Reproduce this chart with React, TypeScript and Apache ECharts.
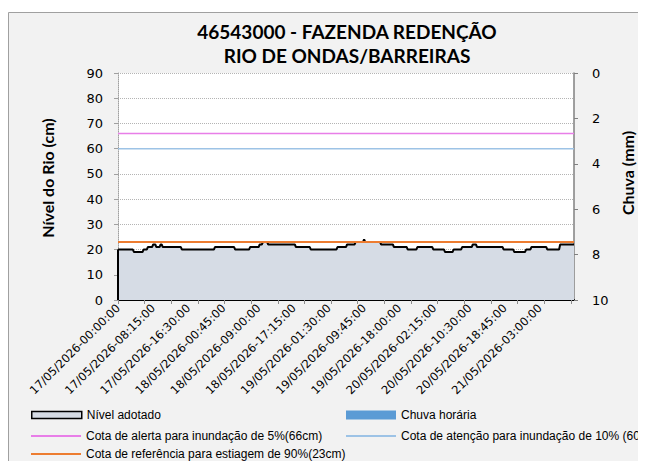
import React, { useEffect, useRef } from "react";
import * as echarts from "echarts";

// ---- data ----
const titleLines = ["46543000 - FAZENDA REDENÇÃO", "RIO DE ONDAS/BARREIRAS"];
const leftAxisTitle = "Nível do Rio (cm)";
const rightAxisTitle = "Chuva (mm)";

// river level (cm), run-length encoded as [value, number of 15-min readings]
const levelRuns: [number, number][] = [
  [20, 15], [19, 9], [20, 4], [21, 5], [22, 3], [21, 4], [22, 2], [21, 18],
  [20, 31], [21, 19], [20, 14], [21, 9], [22, 3], [23, 5], [22, 26], [21, 14],
  [20, 25], [21, 9], [22, 8], [23, 8], [24, 1], [23, 15], [22, 12], [21, 13],
  [20, 9], [21, 15], [20, 11], [19, 8], [20, 8], [21, 10], [22, 4], [21, 25],
  [20, 10], [19, 11], [20, 5], [21, 15], [20, 12], [22, 14],
];
// hourly rain (mm): none recorded
const rainRuns: [number, number][] = [[0, 429]];

const alertLevel = 66;
const attentionLevel = 60;
const droughtLevel = 23;

const seriesNames = {
  level: "Nível adotado",
  rain: "Chuva horária",
  alert: "Cota de alerta para inundação de 5%(66cm)",
  attention: "Cota de atenção para inundação de 10% (60cm)",
  drought: "Cota de referência para estiagem de 90%(23cm)",
};

const startDay = 17;
const stepMinutes = 15;

const expand = (runs: [number, number][]) =>
  runs.flatMap(([v, n]) => Array(n).fill(v));

const levelData: number[] = expand(levelRuns);
const rainData: number[] = expand(rainRuns);

const pad = (n: number) => String(n).padStart(2, "0");
const categories: string[] = levelData.map((_, i) => {
  const m = i * stepMinutes;
  const d = startDay + Math.floor(m / 1440);
  const hh = Math.floor((m % 1440) / 60);
  const mm = m % 60;
  return `${pad(d)}/05/2026-${pad(hh)}:${pad(mm)}:00`;
});

const alertData = categories.map(() => alertLevel);
const attentionData = categories.map(() => attentionLevel);
const droughtData = categories.map(() => droughtLevel);

const COLORS = {
  area: "#d6dce5",
  rain: "#5b9bd5",
  alert: "#e87ee8",
  attention: "#9dc3e6",
  drought: "#ed7d31",
};

export default function App() {
  const ref = useRef<HTMLDivElement>(null);

  useEffect(() => {
    if (!ref.current) return;
    const chart = echarts.init(ref.current, undefined, { renderer: "svg" });
    const legendText = { fontFamily: "Liberation Sans", fontSize: 12, color: "#000" };
    const mkLegend = (
      name: string,
      left: number,
      top: number,
      itemHeight: number,
      extra: any = {}
    ) => ({
      data: [{ name, icon: "rect", ...extra }],
      left,
      top,
      padding: 0,
      itemWidth: 50,
      itemHeight,
      itemGap: 0,
      textStyle: legendText,
      selectedMode: false,
    });

    chart.setOption({
      animation: false,
      title: {
        text: titleLines.join("\n"),
        left: 339,
        top: 11,
        textAlign: "center",
        padding: 0,
        textStyle: {
          fontFamily: "Lato",
          fontWeight: "bold",
          fontSize: 19,
          lineHeight: 24,
          color: "#000",
        },
      },
      graphic: [
        {
          type: "rect",
          z: -10,
          shape: { x: 0.5, y: 4.5, width: 631, height: 470 },
          style: { fill: "#f2f2f2", stroke: "#a0a0a0", lineWidth: 1 },
        },
        {
          type: "text",
          x: 39,
          y: 170,
          rotation: Math.PI / 2,
          style: {
            text: leftAxisTitle,
            align: "center",
            verticalAlign: "middle",
            font: "bold 16px Lato",
            fill: "#000",
          },
        },
        {
          type: "text",
          x: 619,
          y: 165,
          rotation: Math.PI / 2,
          style: {
            text: rightAxisTitle,
            align: "center",
            verticalAlign: "middle",
            font: "bold 16px Lato",
            fill: "#000",
          },
        },
      ],
      legend: [
        mkLegend(seriesNames.level, 23, 401, 7, {
          itemStyle: { color: COLORS.area, borderColor: "#000", borderWidth: 1.5 },
        }),
        mkLegend(seriesNames.rain, 338, 401, 9, {
          itemStyle: { color: COLORS.rain },
        }),
        mkLegend(seriesNames.alert, 23, 422, 2, {
          itemStyle: { color: COLORS.alert },
        }),
        mkLegend(seriesNames.attention, 338, 422, 2, {
          itemStyle: { color: COLORS.attention },
        }),
        mkLegend(seriesNames.drought, 23, 440, 2, {
          itemStyle: { color: COLORS.drought },
        }),
      ],
      grid: {
        left: 110,
        right: 72,
        top: 65,
        bottom: 161,
        show: true,
        backgroundColor: "#fff",
        borderWidth: 0,
      },
      xAxis: {
        type: "category",
        data: categories,
        boundaryGap: false,
        axisLine: { lineStyle: { color: "#000", width: 2 } },
        axisTick: { interval: 24, length: 4, lineStyle: { color: "#8c8c8c" } },
        axisLabel: {
          interval: 32,
          rotate: 45,
          fontFamily: "DejaVu Sans",
          fontSize: 11.5,
          color: "#000",
          margin: 6,
        },
        splitLine: { show: false },
      },
      yAxis: [
        {
          type: "value",
          min: 0,
          max: 90,
          interval: 10,
          axisLine: { show: true, lineStyle: { color: "#a0a0a0", type: "dotted" } },
          axisTick: { show: true, length: 4, lineStyle: { color: "#a0a0a0" } },
          axisLabel: { fontFamily: "DejaVu Sans", fontSize: 13, color: "#000", margin: 15 },
          splitLine: { lineStyle: { color: "#b4b4b4", type: "dotted" } },
        },
        {
          type: "value",
          position: "right",
          inverse: true,
          min: 0,
          max: 10,
          interval: 2,
          axisLine: { show: true, lineStyle: { color: "#808080", width: 1.5 } },
          axisTick: { show: true, length: 4, lineStyle: { color: "#808080" } },
          axisLabel: { fontFamily: "DejaVu Sans", fontSize: 13, color: "#000", margin: 18 },
          splitLine: { show: false },
        },
      ],
      series: [
        {
          name: seriesNames.rain,
          type: "bar",
          yAxisIndex: 1,
          data: rainData,
          itemStyle: { color: COLORS.rain },
          barWidth: "80%",
        },
        {
          name: seriesNames.level,
          type: "line",
          data: levelData,
          symbol: "none",
          lineStyle: { color: "#000", width: 2 },
          itemStyle: { color: "#000" },
          areaStyle: { color: COLORS.area, opacity: 1 },
          z: 2,
        },
        {
          name: "edge",
          type: "line",
          data: [
            [0, 0],
            [0, levelData[0]],
          ],
          symbol: "none",
          lineStyle: { color: "#000", width: 2 },
          z: 3,
        },
        {
          name: seriesNames.alert,
          type: "line",
          data: alertData,
          symbol: "none",
          lineStyle: { color: COLORS.alert, width: 1.5 },
          itemStyle: { color: COLORS.alert },
          z: 4,
        },
        {
          name: seriesNames.attention,
          type: "line",
          data: attentionData,
          symbol: "none",
          lineStyle: { color: COLORS.attention, width: 1.5 },
          itemStyle: { color: COLORS.attention },
          z: 4,
        },
        {
          name: seriesNames.drought,
          type: "line",
          data: droughtData,
          symbol: "none",
          lineStyle: { color: COLORS.drought, width: 2 },
          itemStyle: { color: COLORS.drought },
          z: 4,
        },
      ],
    });
    return () => chart.dispose();
  }, []);

  return <div ref={ref} style={{ width: 638, height: 453 }} />;
}
